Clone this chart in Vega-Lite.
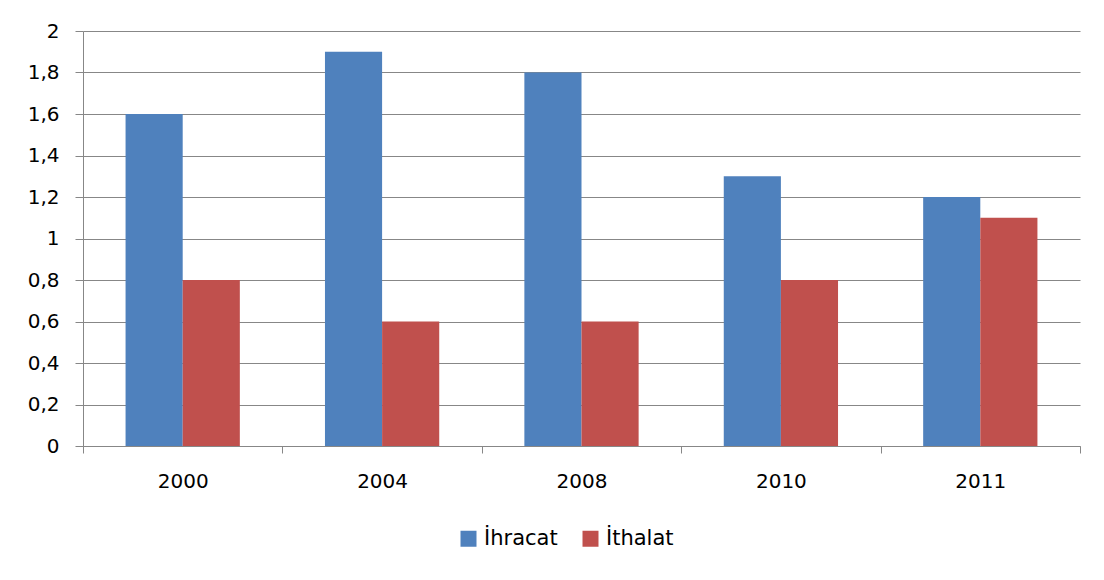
{
  "$schema": "https://vega.github.io/schema/vega-lite/v6.json",
  "width": 997,
  "height": 415,
  "autosize": {"type": "none"},
  "padding": {"left": 83, "top": 31, "right": 24, "bottom": 134},
  "background": "white",
  "data": {
    "values": [
      {"yil": "2000", "seri": "İhracat", "deger": 1.6},
      {"yil": "2000", "seri": "İthalat", "deger": 0.8},
      {"yil": "2004", "seri": "İhracat", "deger": 1.9},
      {"yil": "2004", "seri": "İthalat", "deger": 0.6},
      {"yil": "2008", "seri": "İhracat", "deger": 1.8},
      {"yil": "2008", "seri": "İthalat", "deger": 0.6},
      {"yil": "2010", "seri": "İhracat", "deger": 1.3},
      {"yil": "2010", "seri": "İthalat", "deger": 0.8},
      {"yil": "2011", "seri": "İhracat", "deger": 1.2},
      {"yil": "2011", "seri": "İthalat", "deger": 1.1}
    ]
  },
  "mark": {"type": "bar"},
  "encoding": {
    "x": {
      "field": "yil",
      "type": "nominal",
      "scale": {"paddingInner": 0, "paddingOuter": 0},
      "axis": {
        "title": null,
        "labelAngle": 0,
        "tickBand": "extent",
        "tickSize": 7,
        "labelPadding": 18,
        "domainColor": "#878787",
        "tickColor": "#878787",
        "grid": false
      }
    },
    "xOffset": {
      "field": "seri",
      "type": "nominal",
      "scale": {"paddingInner": 0, "paddingOuter": 0.745}
    },
    "y": {
      "field": "deger",
      "type": "quantitative",
      "scale": {"domain": [0, 2], "nice": false},
      "axis": {
        "title": null,
        "values": [0, 0.2, 0.4, 0.6, 0.8, 1, 1.2, 1.4, 1.6, 1.8, 2],
        "labelExpr": "replace(format(datum.value, '~g'), '.', ',')",
        "tickSize": 8,
        "labelPadding": 16,
        "domainColor": "#878787",
        "tickColor": "#878787",
        "gridColor": "#878787",
        "gridWidth": 1
      }
    },
    "color": {
      "field": "seri",
      "type": "nominal",
      "scale": {"domain": ["İhracat", "İthalat"], "range": ["#4F81BD", "#C0504D"]},
      "legend": {
        "title": null,
        "orient": "none",
        "direction": "horizontal",
        "legendX": 375,
        "legendY": 497,
        "symbolType": "square",
        "symbolSize": 256,
        "symbolStrokeWidth": 0,
        "labelFontSize": 21,
        "labelOffset": 5,
        "columnPadding": 22
      }
    }
  },
  "config": {
    "font": "DejaVu Sans",
    "view": {"stroke": null},
    "axis": {
      "labelFont": "DejaVu Sans",
      "labelFontSize": 20,
      "labelColor": "#000000",
      "domainWidth": 1,
      "tickWidth": 1
    },
    "legend": {"labelFont": "DejaVu Sans", "labelColor": "#000000"}
  }
}
